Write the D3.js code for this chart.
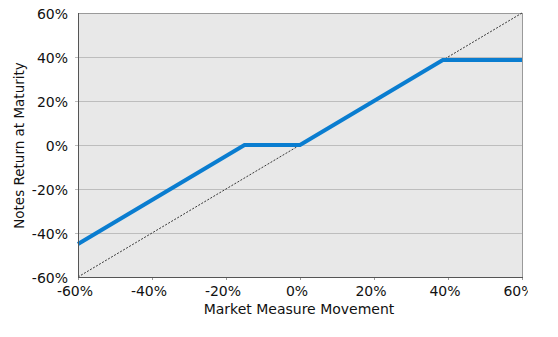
<!DOCTYPE html>
<html>
<head>
<meta charset="utf-8">
<script src="https://cdn.jsdelivr.net/npm/d3@7"></script>
<style>
  body { margin: 0; background: #fff; }
  text { font-family: "DejaVu Sans", sans-serif; fill: #111; }
</style>
</head>
<body>
<svg width="558" height="337"></svg>
<script>
// payoff: market move (%) -> notes return (%)
const moveX = [-60, -15, 0, 38.6, 60];
const notesY = [-45, 0, 0, 38.6, 38.6];
const refX = [-60, 60];
const refY = [-60, 60];
const xTicks = [-60, -40, -20, 0, 20, 40, 60];
const yTicks = [-60, -40, -20, 0, 20, 40, 60];

const pL = 78, pR = 522, pT = 13, pB = 277;

const x = d3.scaleLinear().domain([-60, 60]).range([pL, pR]);
const y = d3.scaleLinear().domain([-60, 60]).range([pB, pT]);

const svg = d3.select('svg');

svg.append('defs').append('clipPath').attr('id', 'page')
  .append('rect').attr('x', 0).attr('y', 0).attr('width', 528).attr('height', 337);

svg.append('rect')
  .attr('x', pL).attr('y', pT)
  .attr('width', pR - pL).attr('height', pB - pT)
  .attr('fill', '#e8e8e8');

svg.selectAll('.grid')
  .data(yTicks.filter(d => d > -60 && d < 60))
  .enter()
  .append('line')
  .attr('class', 'grid')
  .attr('x1', pL - 3).attr('x2', pR)
  .attr('y1', d => y(d) + 0.5).attr('y2', d => y(d) + 0.5)
  .attr('stroke', '#bdbdbd')
  .attr('stroke-width', 1);

// small ticks under the x axis
svg.selectAll('.xtick')
  .data(xTicks)
  .enter()
  .append('line')
  .attr('class', 'xtick')
  .attr('x1', d => x(d) + 0.5).attr('x2', d => x(d) + 0.5)
  .attr('y1', pB).attr('y2', pB + 3)
  .attr('stroke', '#999');

// frame
svg.append('line').attr('x1', pL).attr('x2', pR).attr('y1', pT + 0.5).attr('y2', pT + 0.5)
  .attr('stroke', '#9a9a9a');
svg.append('line').attr('x1', pR + 0.5).attr('x2', pR + 0.5).attr('y1', pT).attr('y2', pB)
  .attr('stroke', '#9a9a9a');

// diagonal reference
svg.append('path')
  .datum(refX.map((v, i) => [v, refY[i]]))
  .attr('d', d3.line().x(d => x(d[0])).y(d => y(d[1])))
  .attr('fill', 'none')
  .attr('stroke', '#222')
  .attr('stroke-width', 0.9)
  .attr('stroke-dasharray', '2,1.5');

// notes payoff
svg.append('path')
  .datum(moveX.map((v, i) => [v, notesY[i]]))
  .attr('d', d3.line().x(d => x(d[0])).y(d => y(d[1])))
  .attr('fill', 'none')
  .attr('stroke', '#0a7dd0')
  .attr('stroke-width', 4);

svg.append('line').attr('x1', pL + 0.5).attr('x2', pL + 0.5).attr('y1', pT).attr('y2', pB)
  .attr('stroke', '#555');
svg.append('line').attr('x1', pL).attr('x2', pR + 1).attr('y1', pB + 0.5).attr('y2', pB + 0.5)
  .attr('stroke', '#555');

const fmt = d => d + '%';

svg.append('g').attr('clip-path', 'url(#page)')
  .selectAll('.xt')
  .data(xTicks)
  .enter()
  .append('text')
  .attr('class', 'xt')
  .attr('x', d => x(d) - 3)
  .attr('y', 296)
  .attr('text-anchor', 'middle')
  .attr('font-size', 14)
  .text(fmt);

svg.selectAll('.yt')
  .data(yTicks)
  .enter()
  .append('text')
  .attr('class', 'yt')
  .attr('x', 68)
  .attr('y', d => y(d) + 5.5)
  .attr('text-anchor', 'end')
  .attr('font-size', 14)
  .text(fmt);

svg.append('text')
  .attr('x', 299)
  .attr('y', 314)
  .attr('text-anchor', 'middle')
  .attr('font-size', 14)
  .text('Market Measure Movement');

svg.append('text')
  .attr('transform', `translate(24, 145.5) rotate(-90)`)
  .attr('text-anchor', 'middle')
  .attr('font-size', 13.5)
  .text('Notes Return at Maturity');
</script>
</body>
</html>
